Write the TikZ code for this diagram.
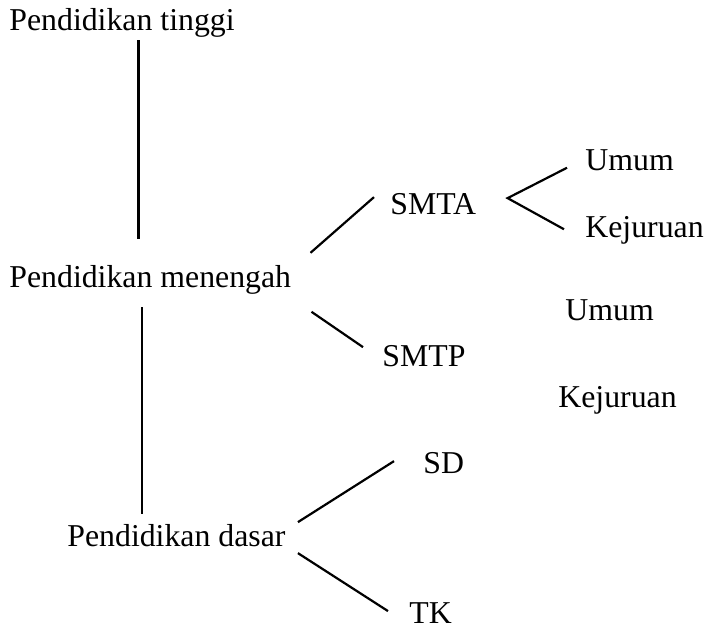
\documentclass[tikz,border=0pt]{standalone}
\usepackage{fontspec}
\setmainfont{Liberation Serif}
\usepackage{tikz}
\usetikzlibrary{positioning}
\usetikzlibrary{calc}
\tikzset{
    jenjang/.style = {inner sep=0pt, anchor=base west},
    cabang/.style = {inner sep=0pt, anchor=base west},
    edgen/.style = {line width=1.1pt, black}
}

\begin{document}
\begin{tikzpicture}[x=0.5pt, y=-0.5pt, font=\fontsize{15.9pt}{19pt}\selectfont]
  \useasboundingbox (0,0) rectangle (707,627);

  % jenjang pendidikan
  \node[jenjang] (tinggi)   at (9,30)   {Pendidikan tinggi};
  \node[jenjang] (menengah) at (9,287)  {Pendidikan menengah};
  \node[jenjang] (dasar)    at (67,546) {Pendidikan dasar};

  % cabang
  \node[cabang] (smta)  at (390,214) {SMTA};
  \node[cabang] (smtp)  at (382,366) {SMTP};
  \node[cabang] (sd)    at (423,473) {SD};
  \node[cabang] (tk)    at (409,623) {TK};
  \node[cabang] (umumA) at (585,170) {Umum};
  \node[cabang] (kejA)  at (585,237) {Kejuruan};
  \node[cabang] (umumB) at (565,320) {Umum};
  \node[cabang] (kejB)  at (558,407) {Kejuruan};

  % garis tegak
  \coordinate (t1) at ($(tinggi.south)+(16.5,3)$);
  \coordinate (m1) at ($(menengah.north)+(0,-26)$);
  \coordinate (m2) at ($(menengah.south)+(-8,13)$);
  \coordinate (d1) at ($(dasar.north)+(0,-10)$);
  \draw[edgen] (t1) -- (t1 |- m1);
  \draw[edgen] (m2) -- (m2 |- d1);

  \draw[edgen] ($(menengah.east)+(19,-26.6)$) -- ($(smta.west)+(-16,-6.5)$);
  \draw[edgen] ($(menengah.east)+(20,32.4)$) -- ($(smtp.west)+(-19,-8.5)$);
  \draw[edgen] ($(umumA.west)+(-18,8)$) -- ($(smta.east)+(31,-5.5)$)
                -- ($(kejA.west)+(-21,-0.6)$);
  \draw[edgen] ($(dasar.east)+(12,-13)$) -- ($(sd.west)+(-29,-1.5)$);
  \draw[edgen] ($(dasar.east)+(12,18)$) -- ($(tk.west)+(-21,-1.5)$);

\end{tikzpicture}
\end{document}
